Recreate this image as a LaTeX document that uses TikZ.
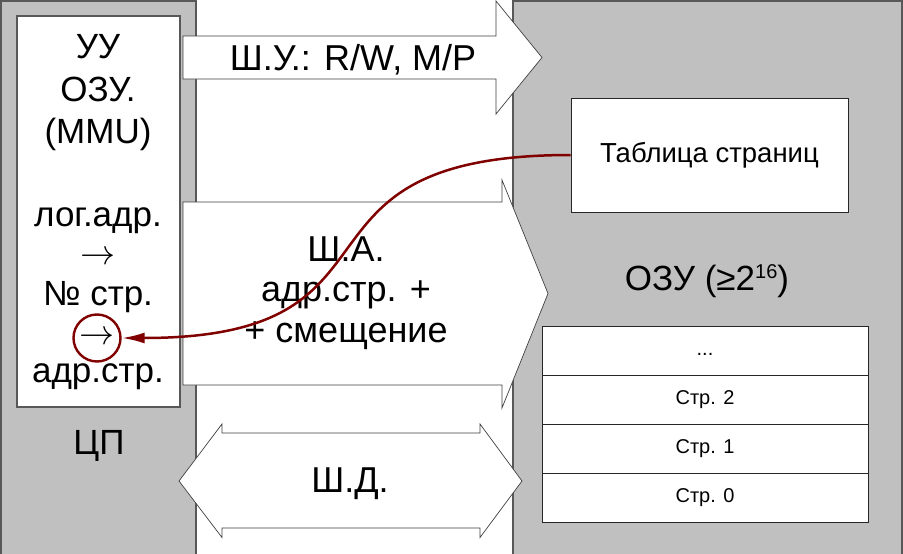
\RequirePackage{fix-cm}
\documentclass[tikz,border=0pt]{standalone}
\usepackage{fontspec}
\setmainfont{Liberation Sans}
\usetikzlibrary{arrows.meta}

\definecolor{panelgray}{HTML}{C0C0C0}
\definecolor{edgegray}{HTML}{585858}
\definecolor{maproute}{HTML}{800000}

\newcommand{\fs}[2]{\fontsize{#1}{#2}\selectfont}

\begin{document}
\begin{tikzpicture}[x=1pt,y=-1pt,
    panel/.style={fill=panelgray,draw=edgegray,line width=1.6pt},
    unit/.style={fill=white,draw=edgegray,line width=1.2pt},
    bus/.style={fill=white,draw=black!75,line width=0.7pt,line join=miter},
    cell/.style={draw=black!85,fill=white,line width=1pt,minimum width=326pt,minimum height=49pt,inner sep=0pt,text height=15pt,text depth=4.5pt,font=\fs{20}{24}},
    big/.style={font=\fs{35}{42},inner sep=0pt,anchor=base},
    buslbl/.style={font=\fs{36}{40.5},inner sep=0pt,align=center}]
    \useasboundingbox (0,0) rectangle (903,554);
    \fill[white] (0,0) rectangle (903,554);
    % CPU and RAM panels
    \draw[panel] (1,1) rectangle (196,600);
    \draw[panel] (513,1) rectangle (902,600);
    % MMU
    \draw[unit] (17,16) rectangle (180,407);
    \node[big] (cu1) at (98,58) {УУ};
    \node[big] (cu2) at (98,101) {ОЗУ.};
    \node[big] (cu3) at (98,143) {(MMU)};
    \node[big] (lga) at (98,226) {лог.адр.};
    \node[big] (ar1) at (98,264) {$\rightarrow$};
    \node[big] (nstr) at (98,305) {№ стр.};
    \node[big,anchor=center,circle,draw=maproute,line width=2.4pt,minimum size=47pt] (hop) at (97,338) {$\rightarrow$};
    \node[big] (padr) at (98,382) {адр.стр.};
    \node[big] (cpu) at (99,454) {ЦП};
    % buses
    \draw[bus] (183,36) -- (496,36) -- (496,1) -- (542,57.5) -- (496,114) -- (496,79) -- (183,79) -- cycle;
    \node[buslbl,anchor=base] (cbus) at (353,70) {Ш.У.: R/W, M/P};
    \draw[bus] (183,202) -- (502,202) -- (502,180) -- (548,293.5) -- (502,408) -- (502,385) -- (183,385) -- cycle;
    \node[buslbl] (abus) at (346,293) {Ш.А.\\адр.стр. +\\+ смещение};
    \draw[bus] (179,481) -- (222,424) -- (222,433) -- (480,433) -- (480,424) -- (522,481) -- (480,537.5) -- (480,528) -- (222,528) -- (222,537.5) -- cycle;
    \node[buslbl,anchor=base] (dbus) at (350,492) {Ш.Д.};
    % RAM
    \node[draw=black!85,fill=white,line width=1pt,minimum width=277pt,minimum height=114pt,font=\fs{27.5}{32}] (ptab) at (709.5,155) {Таблица страниц};
    \node[big] (ram) at (707,290) {ОЗУ (≥2\raisebox{12pt}{\fs{20}{20}16})};
    \node[cell] (pgx) at (705,350.5) {...};
    \node[cell] (pg2) at (705,399.5) {Стр. 2};
    \node[cell] (pg1) at (705,448.5) {Стр. 1};
    \node[cell] (pg0) at (705,497.5) {Стр. 0};
    % table lookup
    \draw[maproute,line width=2.5pt,-{Latex[length=23pt,width=11pt]}] (ptab.west) to[out=180,in=0,looseness=1.6] (hop.east);
\end{tikzpicture}
\end{document}
